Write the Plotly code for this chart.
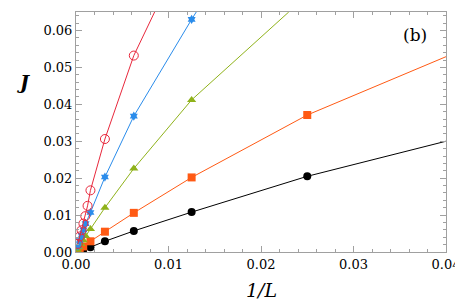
import plotly.graph_objects as go

# Data (x = 1/L, J); last/first points without markers are line ends
x_black = [0.0004, 0.00078, 0.0015625, 0.003125, 0.00625, 0.0125, 0.025]
y_black = [0.0003, 0.0006, 0.0013, 0.0029, 0.0057, 0.0108, 0.0205]
x_black_end = [0.025, 0.04]
y_black_end = [0.0205, 0.0300]

x_orange = [0.0002, 0.0004, 0.00078, 0.0015625, 0.003125, 0.00625, 0.0125, 0.025]
y_orange = [0.0004, 0.0008, 0.0015, 0.0029, 0.0055, 0.0106, 0.0202, 0.0371]
x_orange_end = [0.025, 0.04]
y_orange_end = [0.0371, 0.0529]

x_green = [0.00015, 0.0003, 0.00052, 0.00078, 0.00104, 0.0015625, 0.003125, 0.00625, 0.0125]
y_green = [0.0006, 0.0013, 0.0022, 0.0032, 0.0043, 0.0062, 0.0120, 0.0226, 0.0412]
x_green_end = [0.0125, 0.0230]
y_green_end = [0.0412, 0.0650]

x_blue = [0.0002, 0.0004, 0.0006, 0.0008, 0.00104, 0.0015625, 0.003125, 0.00625, 0.0125]
y_blue = [0.0016, 0.0031, 0.0045, 0.0060, 0.0077, 0.0107, 0.0203, 0.0368, 0.0630]
x_blue_end = [0.0125, 0.0130]
y_blue_end = [0.0630, 0.0650]

x_red = [0.0002, 0.0004, 0.0006, 0.0008, 0.001, 0.00125, 0.0015625, 0.003125, 0.00625]
y_red = [0.0022, 0.0042, 0.0059, 0.0077, 0.0097, 0.0125, 0.0167, 0.0306, 0.0532]
x_red_end = [0.00625, 0.0085]
y_red_end = [0.0532, 0.0650]

series = [
    (x_black, y_black, x_black_end, y_black_end, "#000000", "circle", 8, True),
    (x_orange, y_orange, x_orange_end, y_orange_end, "#FF5A14", "square", 8, True),
    (x_green, y_green, x_green_end, y_green_end, "#8FB21A", "triangle-up", 8, True),
    (x_blue, y_blue, x_blue_end, y_blue_end, "#2A8CEB", "hexagram", 7, True),
    (x_red, y_red, x_red_end, y_red_end, "#E8283C", "circle-open", 9, False),
]

fig = go.Figure()
for xs, ys, xe, ye, col, sym, sz, filled in series:
    fig.add_trace(go.Scatter(x=xe, y=ye, mode="lines",
                             line=dict(color=col, width=1), showlegend=False))
    fig.add_trace(go.Scatter(
        x=xs, y=ys, mode="lines+markers",
        line=dict(color=col, width=1),
        marker=dict(symbol=sym, size=sz, color=col,
                    line=dict(width=1 if not filled else 0, color=col)),
        showlegend=False))

font_serif = "DejaVu Serif"
axis_common = dict(
    showline=True, linecolor="#a0a0a0", linewidth=1, mirror="allticks",
    ticks="inside", ticklen=6, tickcolor="#a0a0a0", tickwidth=1,
    showgrid=False, zeroline=False, ticklabeloverflow="allow",
    tickfont=dict(family=font_serif, size=13, color="#000"),
    minor=dict(ticks="inside", ticklen=3, tickcolor="#a0a0a0", dtick=0.002),
)
fig.update_xaxes(range=[0, 0.04], tickvals=[0, 0.01, 0.02, 0.03, 0.04],
                 ticktext=["0.00", "0.01", "0.02", "0.03", "0.04"], **axis_common)
fig.update_yaxes(range=[0, 0.065], tickvals=[0, 0.01, 0.02, 0.03, 0.04, 0.05, 0.06],
                 ticktext=["0.00", "0.01", "0.02", "0.03", "0.04", "0.05", "0.06"],
                 **axis_common)

# page body has an 8px default margin, so the figure is sized to fit the window
fig.update_layout(
    width=455, height=294,
    margin=dict(l=68, r=4, t=3, b=50),
    plot_bgcolor="white", paper_bgcolor="white",
    font=dict(family=font_serif, color="#000"),
    annotations=[
        dict(text="<i>1/L</i>", xref="paper", yref="paper", x=0.5, y=-0.16,
             xanchor="center", yanchor="middle", showarrow=False,
             font=dict(family=font_serif, size=19, color="#000")),
        dict(text="<b><i>J</i></b>", xref="paper", yref="paper", x=-0.14, y=0.71,
             xanchor="center", yanchor="middle", showarrow=False,
             font=dict(family=font_serif, size=19, color="#000")),
        dict(text="(b)", xref="paper", yref="paper", x=0.955, y=0.905,
             xanchor="right", yanchor="middle", showarrow=False,
             font=dict(family=font_serif, size=17, color="#000")),
    ],
)
fig.write_html("out.html")
